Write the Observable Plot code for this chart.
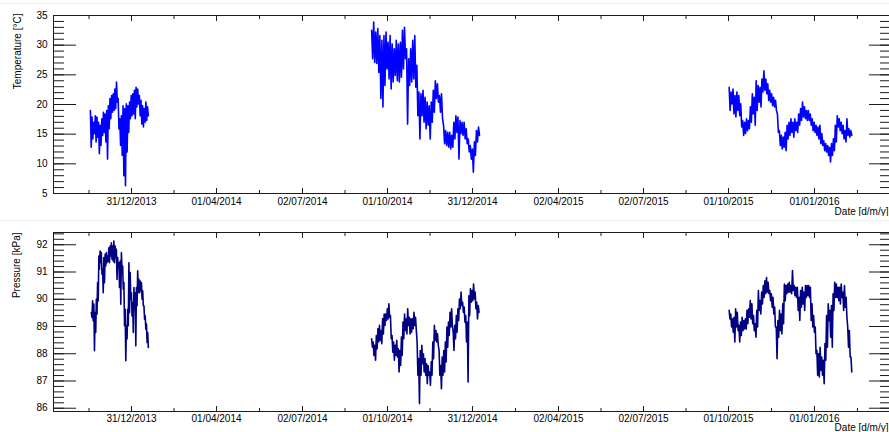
<!DOCTYPE html>
<html><head><meta charset="utf-8">
<script src="https://cdn.jsdelivr.net/npm/d3@7"></script>
<script src="https://cdn.jsdelivr.net/npm/@observablehq/plot@0.6"></script>
<style>
html,body{margin:0;padding:0;background:#fff;overflow:hidden}
#wrap{position:relative;width:889px;height:432px}
.panel{position:absolute;left:0;width:889px;height:216px}
.sep{position:absolute;left:0;width:889px;height:1px;background:#ececec}
</style></head><body>
<div id="wrap">
 <div id="top" class="panel" style="top:0"></div>
 <div id="bot" class="panel" style="top:216px"></div>
 <div class="sep" style="top:3px"></div>
 <div class="sep" style="top:220px"></div>
</div>
<script>
// ---- axis ticks / labels ----
const dateTicks = ["2013-12-31","2014-04-01","2014-07-02","2014-10-01","2014-12-31","2015-04-02","2015-07-02","2015-10-01","2016-01-01"];
const xDomain = ["2013-10-08T12:00Z","2016-03-21T07:00Z"];
const tempTicks = [5,10,15,20,25,30,35];
const presTicks = [86,87,88,89,90,91,92];
const tempDomain = [5,35];
const presDomain = [85.88,92.45];

// ---- temperature [°C] : three recording periods (upper / lower envelope of the noisy trace) ----
const tempSeg1Range = ["2013-11-17","2014-01-18"];
const tempSeg1Hi = [19.0,17.9,17.0,18.1,17.9,17.0,16.5,17.6,18.7,18.4,19.0,19.8,21.0,21.5,21.8,22.6,23.8,21.0,17.6,18.1,19.8,19.3,20.1,19.8,20.4,21.5,21.8,22.4,22.9,22.6,21.5,20.7,19.8,19.3,20.4,19.6];
const tempSeg1Lo = [12.8,14.2,15.1,13.7,14.5,11.7,13.1,14.8,15.3,13.7,10.8,15.9,17.6,18.7,19.0,19.3,20.4,15.9,13.1,11.4,8.0,6.3,12.0,15.3,17.6,18.1,18.4,17.6,19.6,20.1,18.1,16.7,16.2,17.0,17.3,18.1];

const tempSeg2Range = ["2014-09-14","2015-01-07T12:00"];
const tempSeg2Hi = [32.5,33.9,32.2,32.8,31.6,30.8,31.6,32.2,30.5,31.6,30.2,29.4,30.8,30.2,30.5,32.5,33.0,29.4,27.7,29.4,30.8,31.6,26.6,22.1,21.8,22.4,21.2,20.4,19.8,20.4,22.4,24.0,23.5,21.5,21.8,16.5,15.6,15.3,15.3,14.8,17.0,18.1,17.9,17.3,17.0,17.0,15.9,14.2,13.1,12.5,13.7,15.6,16.2];
const tempSeg2Lo = [27.7,27.1,26.9,25.4,21.0,19.6,23.2,26.0,24.3,22.6,23.8,24.9,24.0,23.8,24.6,26.0,27.7,16.7,23.2,23.8,24.3,22.9,18.1,14.2,18.1,17.0,15.9,16.5,14.2,17.0,18.7,21.0,20.4,18.7,17.6,13.4,13.1,12.8,12.5,12.8,14.2,15.3,10.8,15.1,14.8,14.2,13.4,12.0,10.8,8.6,11.4,13.7,14.8];

const tempSeg3Range = ["2015-10-01T16:00","2016-02-09T22:00"];
const tempSeg3Hi = [22.9,22.1,22.6,21.5,22.1,21.5,20.1,17.3,17.0,17.6,17.3,19.6,21.8,21.2,24.0,23.2,22.9,24.3,25.7,24.3,23.5,22.4,21.8,21.2,20.7,18.4,15.6,14.8,14.5,15.3,16.5,17.0,17.6,17.0,17.6,17.0,18.4,19.3,20.4,19.6,19.0,19.0,18.4,17.6,17.0,16.5,16.2,16.5,15.1,13.9,13.4,13.1,12.8,13.4,14.2,16.5,18.1,17.6,17.0,16.5,15.6,17.6,15.9,15.6];
const tempSeg3Lo = [19.0,20.1,18.4,17.9,19.0,18.1,16.2,14.8,15.1,15.6,15.9,17.0,18.4,16.5,19.0,20.4,19.6,22.1,22.4,21.8,20.7,20.4,19.8,19.6,19.0,15.3,13.1,12.5,12.8,12.2,14.2,14.8,15.3,14.5,15.6,15.3,16.5,17.3,17.9,17.6,17.3,17.3,16.5,15.6,15.3,14.8,14.2,13.4,13.1,12.2,12.0,11.4,10.3,11.4,12.2,13.7,16.2,15.6,15.1,14.2,13.7,14.8,14.5,14.8];

// ---- pressure [kPa] ----
const presSeg1Range = ["2013-11-18","2014-01-18"];
const presSeg1Hi = [89.51,89.94,89.82,89.51,90.0,90.61,91.59,91.77,91.71,91.1,91.53,91.65,91.71,91.59,91.89,91.95,92.07,91.95,92.14,91.95,91.83,91.53,91.34,91.4,91.71,91.22,90.61,89.63,89.03,89.63,91.34,90.98,90.24,89.88,90.43,90.24,90.43,91.04,90.73,90.67,90.61,90.31,89.76,89.39,89.09,88.78];
const presSeg1Lo = [89.33,89.21,88.11,88.78,89.45,89.94,91.1,91.34,90.92,90.24,90.61,91.22,91.34,91.4,91.34,91.59,91.47,91.4,91.34,91.53,90.73,91.16,90.43,89.82,90.98,90.37,89.03,87.74,88.54,89.03,89.51,90.0,89.39,88.78,89.63,88.29,89.76,90.24,90.24,90.31,90.0,89.76,89.27,88.9,88.41,88.23];

const presSeg2Range = ["2014-09-14","2015-01-07"];
const presSeg2Hi = [88.55,88.43,88.31,88.67,88.92,89.04,88.85,89.28,89.46,89.46,89.65,89.83,89.40,88.67,88.43,88.31,88.49,88.18,88.12,88.61,89.16,89.46,89.28,89.65,89.34,89.28,89.28,89.52,89.34,88.43,87.82,88.12,88.31,88.0,87.82,87.63,87.57,87.33,87.7,88.43,89.04,88.85,88.73,88.12,87.57,87.88,88.12,88.43,88.98,89.16,89.52,89.65,88.79,89.04,89.40,89.65,90.01,90.26,89.89,89.71,89.40,89.16,90.13,90.38,90.32,90.56,90.26,89.89,89.77];
const presSeg2Lo = [88.24,87.94,87.76,88.18,88.43,88.49,88.37,88.73,89.04,89.22,89.28,89.34,88.55,88.06,87.76,87.94,87.88,87.33,87.57,87.94,88.55,88.85,88.73,89.04,88.73,88.79,88.92,89.04,88.85,87.21,86.17,87.21,87.63,87.33,87.21,86.9,87.21,86.84,87.21,87.82,88.49,88.43,88.31,87.21,86.72,87.21,87.33,87.7,88.24,88.67,88.98,89.04,88.12,88.55,88.79,89.22,89.65,89.77,89.52,89.16,88.43,86.96,89.40,89.89,89.95,90.01,89.65,89.28,89.52];

const presSeg3Range = ["2015-10-01T16:00","2016-02-09T22:00"];
const presSeg3Hi = [89.59,89.46,89.28,89.34,89.65,89.52,89.04,89.16,89.34,89.22,89.28,89.59,89.65,89.95,89.83,89.40,89.10,89.59,90.32,89.95,90.26,90.50,90.68,90.80,90.62,90.32,90.20,90.07,89.71,88.98,89.22,89.59,89.46,89.83,90.56,90.50,90.56,90.62,90.50,91.05,90.50,90.44,90.44,90.07,90.32,90.44,90.26,90.50,90.50,90.50,90.44,89.83,89.40,88.98,88.12,88.0,88.24,87.88,87.76,88.37,89.40,89.83,89.59,89.77,90.20,90.62,90.56,90.44,90.44,90.56,90.26,90.50,90.07,88.98,88.85,87.88];
const presSeg3Lo = [89.28,88.98,88.79,88.43,88.98,88.85,88.43,88.67,88.85,88.91,88.91,89.10,89.34,89.28,89.10,88.85,88.61,88.98,89.59,89.46,89.83,90.07,90.20,90.26,90.20,89.95,89.71,89.46,88.98,87.82,88.61,88.85,88.73,89.10,89.95,90.20,90.26,90.26,90.20,90.32,90.13,90.07,89.59,89.22,89.71,89.83,89.59,90.07,90.13,90.07,89.22,88.98,88.79,88.0,87.21,87.15,87.39,87.21,86.9,87.76,88.24,89.22,88.61,88.24,89.59,90.07,90.07,89.95,89.83,90.07,89.59,89.71,89.34,88.24,87.88,87.33];

// ---- build trace rows (high / low readings alternate within each period) ----
function toDate(s){ return new Date(s.length === 10 ? s + "T00:00Z" : s + "Z"); }
function trace(id, range, hi, lo){
  const t0 = toDate(range[0]).getTime(), t1 = toDate(range[1]).getTime();
  const n = hi.length, step = (t1 - t0) / (n - 0.5);
  const rows = [];
  for (let i = 0; i < n; i++){
    rows.push({seg:id, date:new Date(t0 + i*step), v:hi[i]});
    rows.push({seg:id, date:new Date(t0 + (i+0.5)*step), v:lo[i]});
  }
  return rows;
}
const tempRows = [
  ...trace(1, tempSeg1Range, tempSeg1Hi, tempSeg1Lo),
  ...trace(2, tempSeg2Range, tempSeg2Hi, tempSeg2Lo),
  ...trace(3, tempSeg3Range, tempSeg3Hi, tempSeg3Lo)];
const presRows = [
  ...trace(1, presSeg1Range, presSeg1Hi, presSeg1Lo),
  ...trace(2, presSeg2Range, presSeg2Hi, presSeg2Lo),
  ...trace(3, presSeg3Range, presSeg3Hi, presSeg3Lo)];

const xMajor = dateTicks.map(toDate);
const xMinor = [];
for (let i = 0; i < xMajor.length - 1; i++) xMinor.push(new Date((+xMajor[i] + +xMajor[i+1]) / 2));
xMinor.push(new Date(2 * +xMajor[0] - +xMinor[0]));
xMinor.push(new Date(2 * +xMajor[xMajor.length-1] - +xMinor[xMinor.length-2]));
const fmt = d3.utcFormat("%d/%m/%Y");
const INK = "#1a1a1a";

function panel({rows, color, domain, major, minor, title, marginTop, marginBottom, labelPad, titleDy, dateDy, titleDx}){
  return Plot.plot({
    width: 889, height: 216,
    marginLeft: 53, marginRight: 0, marginTop, marginBottom,
    style: {fontFamily: "'Liberation Sans', Arial, sans-serif", fontSize: "10px", color: "#000", background: "transparent"},
    x: {type: "utc", domain: xDomain.map(s => new Date(s)), axis: null},
    y: {domain, axis: null},
    marks: [
      Plot.line(rows, {x: "date", y: "v", z: "seg", stroke: color, strokeWidth: 1.6, curve: "linear"}),
      Plot.frame({anchor: "left", stroke: INK}),
      Plot.frame({anchor: "top", stroke: INK}),
      Plot.frame({anchor: "bottom", stroke: INK}),
      // left axis (inward ticks)
      Plot.axisY(minor, {anchor: "left", tickSize: -11, stroke: INK, fill: "none"}),
      Plot.axisY(major, {anchor: "left", tickSize: -23, stroke: INK, fill: "none"}),
      Plot.axisY(major, {anchor: "left", tickSize: 0, tickPadding: 6, fill: "#000", label: null}),
      // right axis (ticks only)
      Plot.axisY(minor, {anchor: "right", tickSize: -10, stroke: INK, fill: "none"}),
      Plot.axisY(major, {anchor: "right", tickSize: -21, stroke: INK, fill: "none"}),
      // bottom and top time axes
      Plot.axisX(xMinor, {anchor: "bottom", tickSize: -3, stroke: INK, fill: "none"}),
      Plot.axisX(xMajor, {anchor: "bottom", tickSize: -5, stroke: INK, fill: "none"}),
      Plot.axisX(xMajor, {anchor: "bottom", tickSize: 0, tickPadding: labelPad, tickFormat: fmt, fill: "#000", label: null}),
      Plot.axisX(xMinor, {anchor: "top", tickSize: -3, stroke: INK, fill: "none"}),
      Plot.axisX(xMajor, {anchor: "top", tickSize: -5, stroke: INK, fill: "none"}),
      // axis titles
      Plot.text([title], {frameAnchor: "top-left", rotate: -90, textAnchor: "end", lineAnchor: "middle", dx: titleDx, dy: titleDy, fontSize: 10, fill: "#000"}),
      Plot.text(["Date [d/m/y]"], {frameAnchor: "bottom-right", textAnchor: "end", lineAnchor: "middle", dx: -1, dy: dateDy, fontSize: 10, fill: "#000"})
    ]
  });
}

document.getElementById("top").append(panel({
  rows: tempRows, color: "#0000ff", domain: tempDomain, major: tempTicks,
  minor: d3.range(5, 35.5, 1), title: "Temperature [°C]",
  marginTop: 15, marginBottom: 23, labelPad: 4, titleDy: -2, titleDx: -36, dateDy: 18
}));
document.getElementById("bot").append(panel({
  rows: presRows, color: "#000080", domain: presDomain, major: presTicks,
  minor: d3.range(86, 92.45, 0.2), title: "Pressure [kPa]",
  marginTop: 16, marginBottom: 21, labelPad: 3, titleDy: 0, titleDx: -37, dateDy: 16
}));
</script>
</body></html>
